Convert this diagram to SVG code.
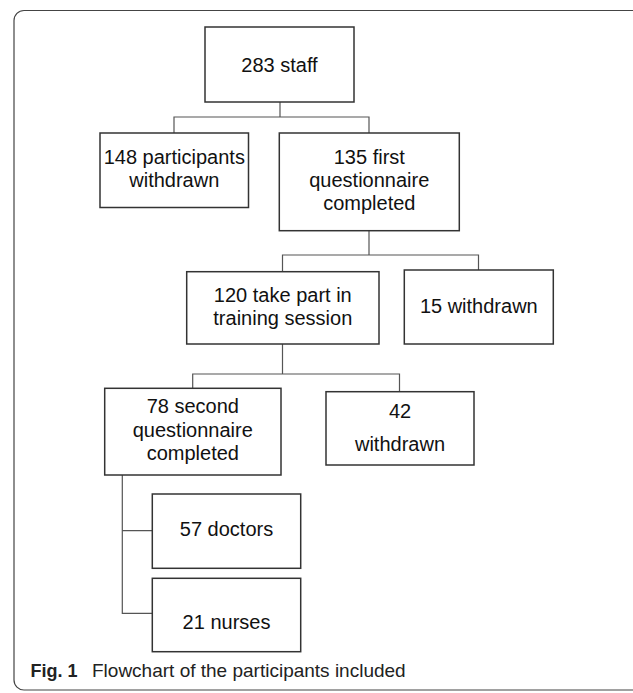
<svg xmlns="http://www.w3.org/2000/svg" width="633" height="693" viewBox="0 0 633 693">
<style>
.box{fill:#fff;stroke:#333;stroke-width:1.5}
.t{font-family:"Liberation Sans",Arial,sans-serif;font-size:20px;fill:#111;text-anchor:middle}
.con{fill:none;stroke:#555;stroke-width:1.2}
.cap{font-family:"Liberation Sans",Arial,sans-serif;font-size:19px;fill:#222}
</style>
<rect x="0" y="0" width="633" height="693" fill="#fff"/>
<rect x="14" y="10.5" width="630" height="679.5" rx="10" ry="10" fill="none" stroke="#444" stroke-width="1.2"/>
<g id="connectors">
<path class="con" d="M280,102V117M174,133V117H369V133"/>
<path class="con" d="M369,231V255M282.5,272V255H478.5V270"/>
<path class="con" d="M282.5,344V374M192.7,388V374H399.5V392"/>
<path class="con" d="M122.3,475V613.3H152.3M122.3,530.7H152.3"/>
</g>
<g id="n283">
<rect class="box" x="205" y="27" width="149" height="75"/>
<text class="t" x="279.5" y="71.5">283 staff</text>
</g>
<g id="n148">
<rect class="box" x="100" y="133" width="148.5" height="74.5"/>
<text class="t" x="174.3" y="164">148 participants</text>
<text class="t" x="174.3" y="187">withdrawn</text>
</g>
<g id="n135">
<rect class="box" x="279.3" y="133" width="180" height="97.7"/>
<text class="t" x="369.3" y="164">135 first</text>
<text class="t" x="369.3" y="187">questionnaire</text>
<text class="t" x="369.3" y="210">completed</text>
</g>
<g id="n120">
<rect class="box" x="186.7" y="271.7" width="192.3" height="72.3"/>
<text class="t" x="282.8" y="301.7">120 take part in</text>
<text class="t" x="282.8" y="325">training session</text>
</g>
<g id="n15">
<rect class="box" x="404.3" y="270" width="149" height="74"/>
<text class="t" x="478.8" y="312.7">15 withdrawn</text>
</g>
<g id="n78">
<rect class="box" x="104.7" y="388.3" width="176.3" height="86.7"/>
<text class="t" x="192.8" y="412.7">78 second</text>
<text class="t" x="192.8" y="436.7">questionnaire</text>
<text class="t" x="192.8" y="460">completed</text>
</g>
<g id="n42">
<rect class="box" x="326" y="391.7" width="148" height="73.3"/>
<text class="t" x="400" y="418">42</text>
<text class="t" x="400" y="450.5">withdrawn</text>
</g>
<g id="n57">
<rect class="box" x="152.3" y="494" width="148.4" height="74.3"/>
<text class="t" x="226.5" y="536">57 doctors</text>
</g>
<g id="n21">
<rect class="box" x="152.3" y="578.3" width="148.4" height="73.4"/>
<text class="t" x="226.5" y="629">21 nurses</text>
</g>
<g id="caption">
<text class="cap" x="30.5" y="677"><tspan font-weight="bold" font-size="18">Fig. 1</tspan><tspan x="92">Flowchart of the participants included</tspan></text>
</g>
</svg>
